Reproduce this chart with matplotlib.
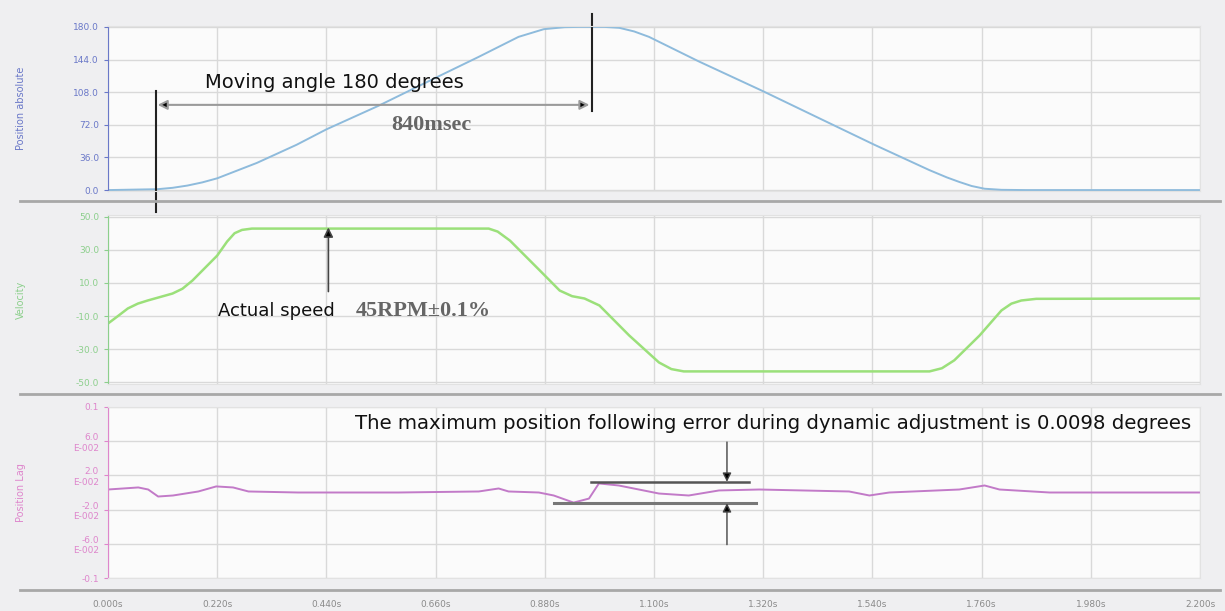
import matplotlib
import matplotlib.pyplot as plt
from matplotlib.lines import Line2D
matplotlib.use('Agg')

# time ticks (s)
x_ticks = [0.0, 0.22, 0.44, 0.66, 0.88, 1.10, 1.32, 1.54, 1.76, 1.98, 2.20]
x_tick_labels = ["0.000s", "0.220s", "0.440s", "0.660s", "0.880s", "1.100s",
                 "1.320s", "1.540s", "1.760s", "1.980s", "2.200s"]

# position absolute (deg)
pos_t = [0.0, 0.10, 0.13, 0.16, 0.19, 0.22, 0.30, 0.38, 0.44, 0.545, 0.668, 0.747, 0.827,
         0.878, 0.92, 0.95, 1.0, 1.03, 1.06, 1.09, 1.19, 1.32, 1.43, 1.544, 1.655, 1.69,
         1.715, 1.74, 1.766, 1.80, 1.85, 2.2]
pos_v = [0.0, 1.0, 2.5, 5.0, 8.5, 13.0, 30.0, 50.0, 67.0, 93.0, 126.0, 147.0, 169.0,
         177.5, 179.7, 180.0, 180.0, 179.0, 175.0, 169.0, 142.0, 109.0, 80.0, 50.0, 22.0,
         14.0, 9.0, 4.5, 1.5, 0.3, 0.0, 0.0]
pos_ticks = [0.0, 36.0, 72.0, 108.0, 144.0, 180.0]

# velocity
vel_t = [0.0, 0.02, 0.04, 0.06, 0.08, 0.105, 0.13, 0.15, 0.17, 0.22, 0.24, 0.255, 0.27,
         0.29, 0.50, 0.767, 0.785, 0.81, 0.87, 0.91, 0.935, 0.96, 0.99, 1.05, 1.11, 1.135,
         1.16, 1.40, 1.655, 1.68, 1.705, 1.756, 1.80, 1.82, 1.84, 1.87, 2.2]
vel_v = [-14.5, -10.0, -5.4, -2.5, -0.6, 1.5, 3.6, 6.5, 11.4, 26.5, 35.0, 40.0, 42.0,
         42.8, 42.8, 42.8, 41.0, 35.5, 17.5, 5.4, 2.0, 0.6, -3.6, -21.7, -38.0, -42.0,
         -43.4, -43.4, -43.4, -41.5, -36.7, -21.7, -6.6, -2.5, -0.6, 0.4, 0.6]
vel_ticks = [50.0, 30.0, 10.0, -10.0, -30.0, -50.0]
vel_tick_labels = ["50.0", "30.0", "10.0", "-10.0", "-30.0", "-50.0"]

# position lag
lag_t = [0.0, 0.061, 0.081, 0.101, 0.131, 0.182, 0.218, 0.252, 0.283, 0.383, 0.585,
         0.747, 0.787, 0.807, 0.868, 0.898, 0.938, 0.969, 0.989, 1.029, 1.11, 1.17,
         1.231, 1.312, 1.493, 1.534, 1.574, 1.715, 1.766, 1.796, 1.897, 2.2]
lag_v = [0.0035, 0.0059, 0.0035, -0.0047, -0.0035, 0.0012, 0.0071, 0.0059, 0.0012,
         0.0, 0.0, 0.0012, 0.0047, 0.0012, 0.0, -0.0035, -0.0118, -0.0071, 0.0106,
         0.0082, -0.0012, -0.0035, 0.0024, 0.0035, 0.0012, -0.0035, 0.0, 0.0035,
         0.0082, 0.0035, 0.0, 0.0]
lag_ticks = [0.1, 0.06, 0.02, -0.02, -0.06, -0.1]
lag_tick_labels = ["0.1", "6.0\nE-002", "2.0\nE-002", "-2.0\nE-002", "-6.0\nE-002", "-0.1"]

W, H = 1225, 611
fig = plt.figure(figsize=(W / 100, H / 100), dpi=100, facecolor='#efeff1')


def px_axes(top, bottom, left=108, right=1200):
    return fig.add_axes([left / W, 1 - bottom / H, (right - left) / W, (bottom - top) / H])


def style(ax, color, yticks, ylabels, ylabel):
    ax.set_facecolor('#fbfbfb')
    ax.set_xlim(0, 2.2)
    ax.set_xticks(x_ticks)
    ax.set_yticks(yticks)
    ax.set_yticklabels(ylabels)
    ax.grid(True, color='#d9d9d9', lw=1)
    ax.set_axisbelow(True)
    for s in ['top', 'right', 'bottom']:
        ax.spines[s].set_color('#e2e2e2')
    ax.spines['left'].set_color(color)
    ax.tick_params(axis='y', colors=color, labelsize=6.5, length=3)
    ax.tick_params(axis='x', length=0)
    ax.set_ylabel(ylabel, color=color, fontsize=7)
    ax.yaxis.set_label_coords(-0.075, 0.5)


ax1 = px_axes(26, 191)
ax2 = px_axes(215, 384)
ax3 = px_axes(407, 578)

ax1.plot(pos_t, pos_v, color='#8ebbdc', lw=1.4)
ax1.set_ylim(-1, 181)
style(ax1, '#6a78c8', pos_ticks, [f"{v:.1f}" for v in pos_ticks], "Position absolute")
ax1.set_xticklabels([])

ax2.plot(vel_t, vel_v, color='#9be07a', lw=1.8)
ax2.set_ylim(-51, 51)
style(ax2, '#8ccf8c', vel_ticks, vel_tick_labels, "Velocity")
ax2.set_xticklabels([])

ax3.plot(lag_t, lag_v, color='#c27ac8', lw=1.4)
ax3.set_ylim(-0.1, 0.1)
style(ax3, '#de86cc', lag_ticks, lag_tick_labels, "Position Lag")
ax3.set_xticklabels(x_tick_labels)
ax3.tick_params(axis='x', colors='#8a8a8a', labelsize=6.5, pad=16)

# panel separators
for y in [201, 394, 590]:
    fig.add_artist(Line2D([20 / W, 1 - 5 / W], [1 - y / H, 1 - y / H],
                          color='#a8a8a8', lw=2, transform=fig.transFigure))

# panel 1 annotations
ax1.plot([0.097, 0.097], [-24, 109], color='#222222', lw=1.5, clip_on=False)
ax1.plot([0.975, 0.975], [87, 194], color='#222222', lw=1.5, clip_on=False)
ax1.annotate('', xy=(0.10, 94), xytext=(0.97, 94),
             arrowprops=dict(arrowstyle='<|-|>', fc='black', ec='#9a9a9a', lw=1.5,
                             mutation_scale=14, shrinkA=0, shrinkB=0))
ax1.text(0.195, 119, "Moving angle 180 degrees", fontsize=14, color='#111111', va='center')
ax1.text(0.57, 72, "840msec", fontsize=16, color='#666666', va='center',
         family='Liberation Serif', weight='bold')

# panel 2 annotations
ax2.annotate('', xy=(0.444, 43.5), xytext=(0.444, 4.8),
             arrowprops=dict(arrowstyle='-|>', fc='black', ec='#444444', lw=1.2,
                             mutation_scale=14, shrinkA=0, shrinkB=0))
ax2.text(0.222, -7, "Actual speed", fontsize=13, color='#111111', va='center')
ax2.text(0.50, -7, "45RPM±0.1%", fontsize=16, color='#666666', va='center',
         family='Liberation Serif', weight='bold')

# panel 3 annotations
ax3.text(0.498, 0.081, "The maximum position following error during dynamic adjustment is 0.0098 degrees",
         fontsize=14.2, color='#111111', va='center')
ax3.plot([0.973, 1.292], [0.0118, 0.0118], color='#555555', lw=1.8)
ax3.plot([0.898, 1.306], [-0.0118, -0.0118], color='#777777', lw=2.2)
ax3.annotate('', xy=(1.247, 0.0125), xytext=(1.247, 0.059),
             arrowprops=dict(arrowstyle='-|>', fc='black', ec='#444444', lw=1.0,
                             mutation_scale=13, shrinkA=0, shrinkB=0))
ax3.annotate('', xy=(1.247, -0.0125), xytext=(1.247, -0.061),
             arrowprops=dict(arrowstyle='-|>', fc='black', ec='#444444', lw=1.0,
                             mutation_scale=13, shrinkA=0, shrinkB=0))

plt.savefig("out.png", dpi=100, facecolor=fig.get_facecolor())
plt.close()
